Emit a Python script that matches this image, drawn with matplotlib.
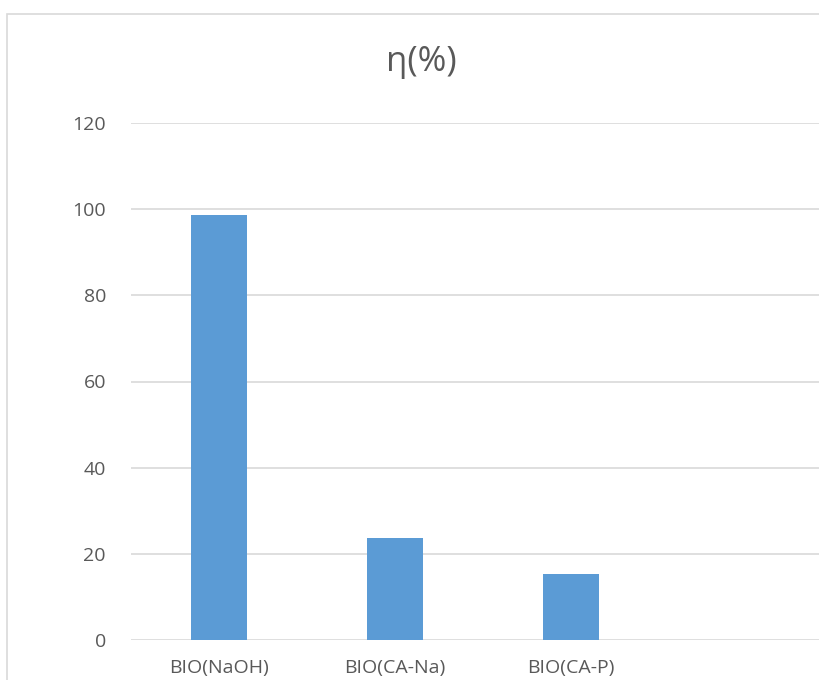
import matplotlib.pyplot as plt
from matplotlib.patches import Rectangle

categories = ['BIO(NaOH)', 'BIO(CA-Na)', 'BIO(CA-P)']
eta = [98.7, 23.7, 15.4]
yticks = [0, 20, 40, 60, 80, 100, 120]

plt.rcParams['font.family'] = ['Open Sans', 'DejaVu Sans']
text_col = '#595959'
grid_col = '#d9d9d9'

fig = plt.figure(figsize=(8.19, 6.8), dpi=100)

# chart border (the chart area runs past the right and bottom edges)
fig.patches.append(Rectangle((7 / 819, -0.1), 1.2, (680 - 14) / 680 + 0.1,
                             transform=fig.transFigure, fill=False,
                             edgecolor=grid_col, linewidth=1.2))

ax = fig.add_axes([131 / 819, 40 / 680, 704 / 819, 517 / 680])
x = range(len(categories))
ax.bar(x, eta, width=0.318, color='#5b9bd5', zorder=3)

ax.set_xlim(-0.5, 3.5)
ax.set_ylim(0, 120)
ax.set_yticks(yticks)
ax.set_xticks(list(x))
ax.set_xticklabels(categories)
ax.yaxis.grid(True, color=grid_col, linewidth=1.2)
ax.set_axisbelow(True)
for s in ax.spines.values():
    s.set_visible(False)
ax.tick_params(axis='both', length=0, colors=text_col, labelsize=14)
ax.tick_params(axis='y', pad=18)
ax.tick_params(axis='x', pad=14)

fig.text(421 / 819, 1 - 62 / 680, 'η(%)', ha='center', va='center',
         fontsize=25, color=text_col)

fig.savefig('out.png', dpi=100)
